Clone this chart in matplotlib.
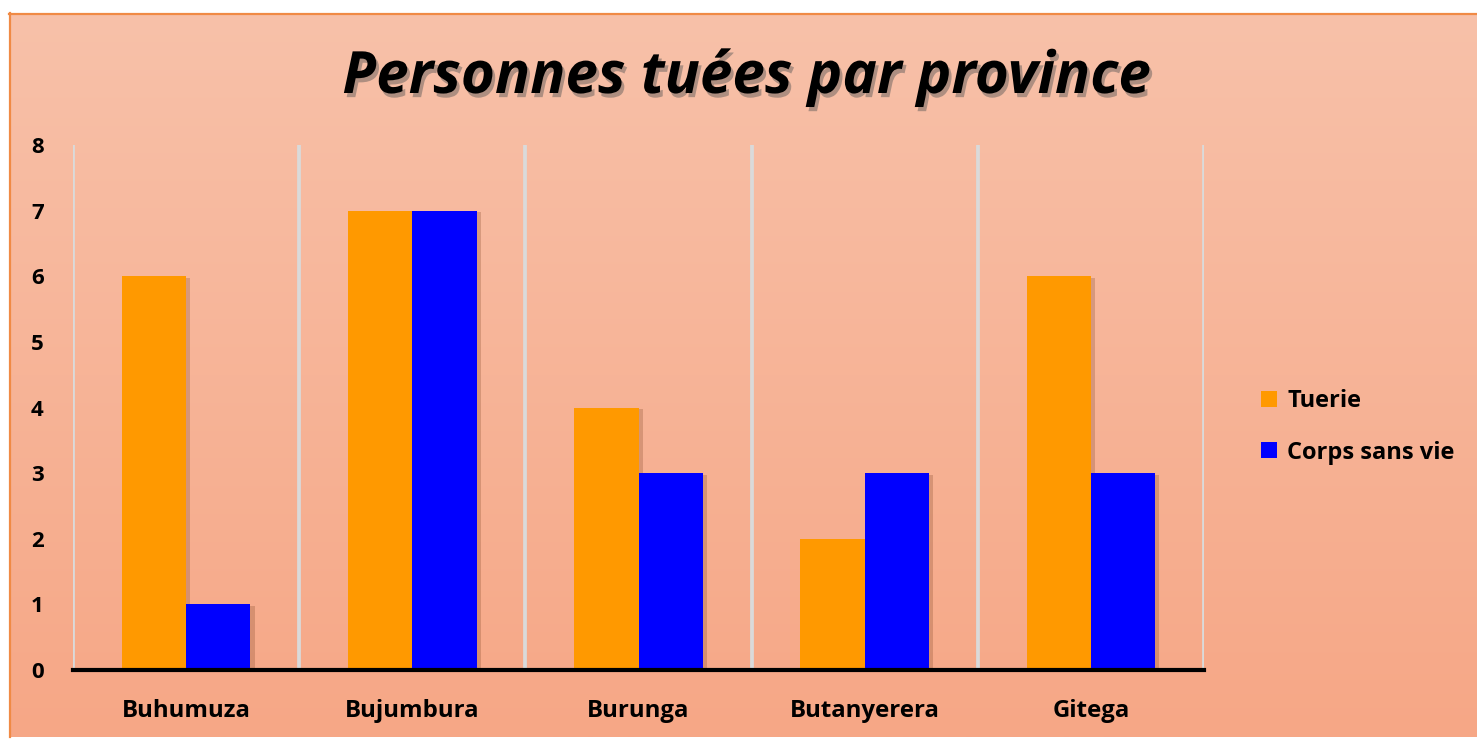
import numpy as np
import matplotlib
matplotlib.use("Agg")
import matplotlib.pyplot as plt
from matplotlib import patheffects as pe
from matplotlib.patches import Patch
from matplotlib.lines import Line2D

provinces = ["Buhumuza", "Bujumbura", "Burunga", "Butanyerera", "Gitega"]
tuerie = [6, 7, 4, 2, 6]
corps_sans_vie = [1, 7, 3, 3, 3]
series_names = ["Tuerie", "Corps sans vie"]
y_ticks = [0, 1, 2, 3, 4, 5, 6, 7, 8]
title = "Personnes tuées par province"

ORANGE = "#FF9900"
BLUE = "#0000FF"
FONT = ["Open Sans", "DejaVu Sans"]

W, H = 1477, 739
fig = plt.figure(figsize=(W / 100, H / 100), dpi=100)
fig.patch.set_facecolor("white")

# background gradient panel
bg = fig.add_axes([9 / W, 2 / H, (W - 9) / W, (H - 13 - 2) / H])
top = np.array([248, 193, 169]) / 255
bot = np.array([246, 167, 134]) / 255
t = np.linspace(0, 1, 256)[:, None]
grad = (top[None, :] * (1 - t) + bot[None, :] * t)[:, None, :]
bg.imshow(grad, aspect="auto", extent=[0, 1, 0, 1])
bg.set_xlim(0, 1)
bg.set_ylim(0, 1)
bg.axis("off")
fig.add_artist(Line2D([9.5 / W, 9.5 / W], [2 / H, (H - 13) / H], color="#F08A45", lw=1.6))
fig.add_artist(Line2D([9 / W, 1], [(H - 13.5) / H, (H - 13.5) / H], color="#F08A45", lw=1.6))

ax = fig.add_axes([73 / W, 69 / H, (1204 - 73) / W, 525 / H])
ax.set_facecolor("none")
x = np.arange(len(provinces))
bw = 0.284
shadow = [pe.SimplePatchShadow(offset=(3, -1), shadow_rgbFace="#7a4020", alpha=0.25), pe.Normal()]
b1 = ax.bar(x - bw / 2, tuerie, bw, color=ORANGE, zorder=3)
b2 = ax.bar(x + bw / 2, corps_sans_vie, bw, color=BLUE, zorder=3)
for b in list(b1) + list(b2):
    b.set_path_effects(shadow)

for gx in np.arange(-0.5, len(provinces), 1.0):
    ax.axvline(gx, color="#DADADA", lw=2.7, zorder=1)

ax.set_xlim(-0.5, len(provinces) - 0.5)
ax.set_ylim(0, 8)
ax.set_yticks(y_ticks)
ax.set_yticklabels([str(v) for v in y_ticks], fontsize=16, fontweight="bold", family=FONT)
ax.set_xticks(x)
ax.set_xticklabels(provinces, fontsize=17.3, fontweight="bold", family=FONT)
ax.tick_params(axis="y", length=0, pad=21)
ax.tick_params(axis="x", length=0, pad=21)
for s in ["top", "right", "left"]:
    ax.spines[s].set_visible(False)
ax.spines["bottom"].set_color("black")
ax.spines["bottom"].set_linewidth(3)
ax.spines["bottom"].set_zorder(4)

fig.text(747 / W, 1 - 78 / H, title, fontsize=42, fontweight="bold", fontstyle="italic",
         family=FONT, ha="center", va="center",
         path_effects=[pe.SimplePatchShadow(offset=(2, -3), shadow_rgbFace="#555555", alpha=0.45), pe.Normal()])

handles = [Patch(facecolor=ORANGE), Patch(facecolor=BLUE)]
leg = fig.legend(handles, series_names, loc="center left",
                 bbox_to_anchor=(1240 / W, 1 - 427 / H), frameon=False,
                 handlelength=0.65, handleheight=0.65, handletextpad=0.45,
                 labelspacing=1.15, prop={"family": FONT, "weight": "bold", "size": 17})

fig.savefig("out.png", dpi=100)
